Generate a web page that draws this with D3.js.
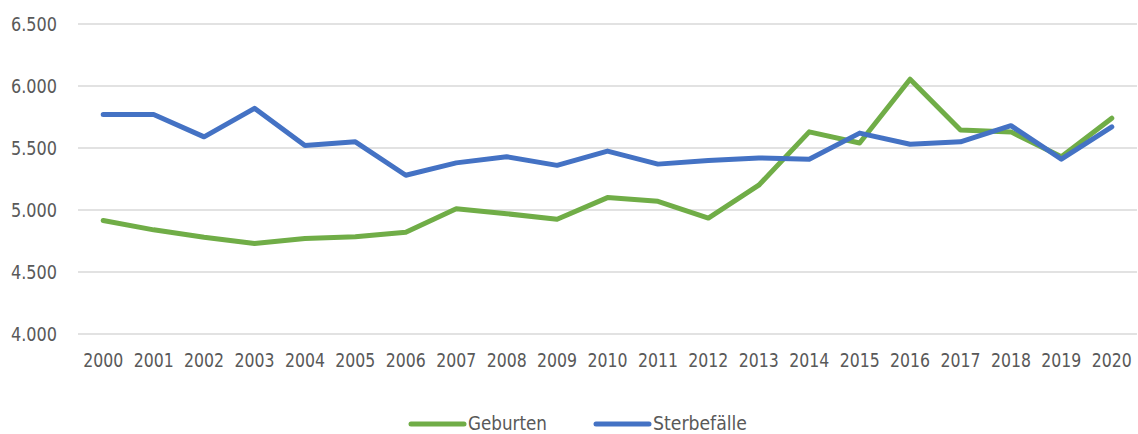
<!DOCTYPE html>
<html>
<head>
<meta charset="utf-8">
<script src="https://cdn.jsdelivr.net/npm/d3@7"></script>
<style>
  body { margin: 0; background: #fff; }
  svg text { font-family: "DejaVu Sans Condensed", "Liberation Sans Narrow", "Roboto", sans-serif; fill: #595959; }
</style>
</head>
<body>
<svg id="chart" width="1138" height="434"></svg>
<script>
const years = ["2000","2001","2002","2003","2004","2005","2006","2007","2008","2009","2010",
               "2011","2012","2013","2014","2015","2016","2017","2018","2019","2020"];
const geburten = [4915, 4840, 4780, 4730, 4770, 4785, 4820, 5010, 4970, 4925, 5100,
                  5070, 4935, 5200, 5630, 5540, 6055, 5645, 5630, 5430, 5740];
const sterbefaelle = [5770, 5770, 5590, 5820, 5520, 5550, 5280, 5380, 5430, 5360, 5475,
                      5370, 5400, 5420, 5410, 5620, 5530, 5550, 5680, 5410, 5670];
const yTicks = [4000, 4500, 5000, 5500, 6000, 6500];
const seriesNames = ["Geburten", "Sterbefälle"];
const colors = ["#70AD47", "#4472C4"];

const svg = d3.select("#chart");
const plotLeft = 78, plotRight = 1137, plotTop = 24, plotBottom = 334;

const de = d3.formatLocale({ decimal: ",", thousands: ".", grouping: [3], currency: ["", " €"] });
const fmt = de.format(",d");

const x = d3.scaleBand().domain(years).range([plotLeft, plotRight]);
const y = d3.scaleLinear().domain([4000, 6500]).range([plotBottom, plotTop]);

// gridlines
svg.append("g")
    .selectAll("line")
    .data(yTicks)
    .enter().append("line")
    .attr("x1", plotLeft)
    .attr("x2", plotRight)
    .attr("y1", d => y(d))
    .attr("y2", d => y(d))
    .attr("stroke", "#d9d9d9")
    .attr("stroke-width", 1.5);

// y axis labels
const yAxis = svg.append("g")
    .attr("transform", `translate(${plotLeft},0)`)
    .call(d3.axisLeft(y).tickValues(yTicks).tickFormat(fmt).tickSize(0).tickPadding(21));
yAxis.select(".domain").remove();
yAxis.selectAll("text")
    .style("font-size", "20px")
    .attr("textLength", 46)
    .attr("lengthAdjust", "spacingAndGlyphs");

// x axis labels
const xAxis = svg.append("g")
    .attr("transform", `translate(0,${plotBottom})`)
    .call(d3.axisBottom(x).tickSize(0).tickPadding(19));
xAxis.select(".domain").remove();
xAxis.selectAll("text")
    .style("font-size", "20px")
    .attr("textLength", 40)
    .attr("lengthAdjust", "spacingAndGlyphs");

const line = d3.line()
    .x((d, i) => x(years[i]) + x.bandwidth() / 2)
    .y(d => y(d));

[geburten, sterbefaelle].forEach((s, k) => {
    svg.append("path")
        .datum(s)
        .attr("fill", "none")
        .attr("stroke", colors[k])
        .attr("stroke-width", 5)
        .attr("stroke-linejoin", "round")
        .attr("stroke-linecap", "round")
        .attr("d", line);
});

// legend
const legendX = [411, 596];
const legendW = [79, 94];
const legend = svg.append("g");
seriesNames.forEach((name, k) => {
    legend.append("line")
        .attr("x1", legendX[k])
        .attr("x2", legendX[k] + 53)
        .attr("y1", 424)
        .attr("y2", 424)
        .attr("stroke", colors[k])
        .attr("stroke-width", 5)
        .attr("stroke-linecap", "round");
    legend.append("text")
        .attr("x", legendX[k] + 57)
        .attr("y", 430)
        .style("font-size", "19px")
        .attr("textLength", legendW[k])
        .attr("lengthAdjust", "spacingAndGlyphs")
        .text(name);
});
</script>
</body>
</html>
